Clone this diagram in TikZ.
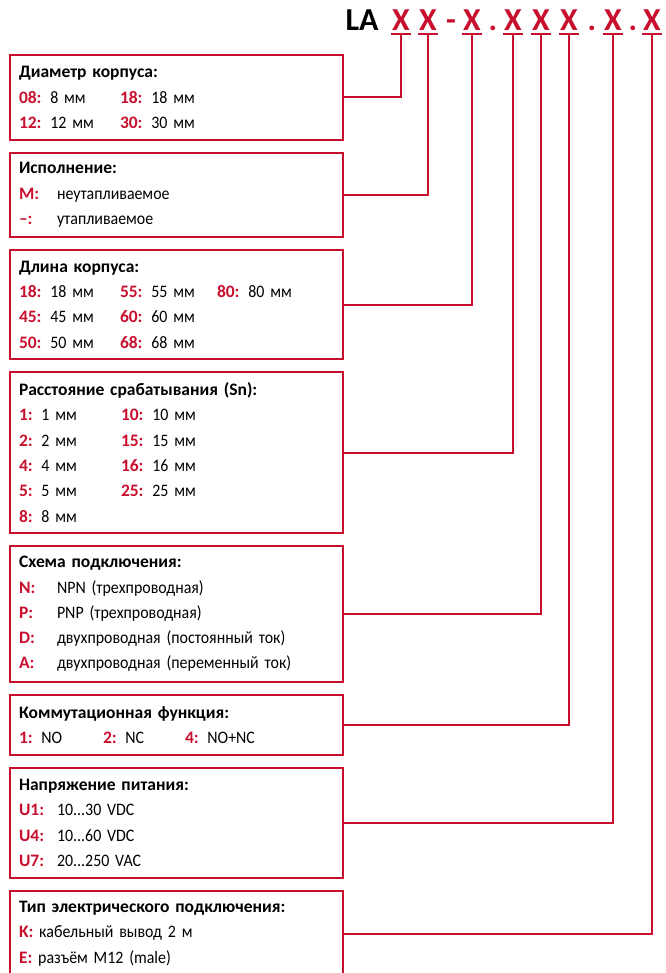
\documentclass[tikz,border=0pt]{standalone}
\usepackage{fontspec}
\setmainfont{Carlito}[WordSpace=0.75, UprightFeatures={FakeStretch=0.91}]
\usetikzlibrary{positioning}

\definecolor{lared}{RGB}{200,16,46}
\newcommand{\key}[1]{\textbf{\color{lared}#1}}
\newcommand{\cell}[2]{\makebox[#1][l]{#2}}

\begin{document}
\begin{tikzpicture}[x=1pt, y=-1pt, node distance=11pt,
    box/.style={draw=lared, line width=2pt, align=left, text width=315pt,
        inner xsep=9pt, inner ysep=0pt, font=\fontsize{17.5}{25.3}\selectfont},
    code/.style={anchor=base, inner sep=0pt, text=lared,
        font=\fontsize{32}{32}\selectfont\bfseries},
    link/.style={draw=lared, line width=2pt}]

    \useasboundingbox (0,0) rectangle (665,973);

    % code line
    \node[code, text=black] (la) at (362,31) {LA};
    \node[code] (x1) at (401,31) {X};
    \node[code] (x2) at (428,31) {X};
    \node[code] (d1) at (451,31) {-};
    \node[code] (x3) at (472,31) {X};
    \node[code] (p1) at (493,31) {.};
    \node[code] (x4) at (513,31) {X};
    \node[code] (x5) at (541,31) {X};
    \node[code] (x6) at (569,31) {X};
    \node[code] (p2) at (592,31) {.};
    \node[code] (x7) at (613,31) {X};
    \node[code] (p3) at (633,31) {.};
    \node[code] (x8) at (652,31) {X};

    % boxes
    \node[box, anchor=north west, minimum height=85pt] (diam) at (9,54) {%
        \textbf{Диаметр корпуса:}\\
        \cell{101pt}{\key{08:} 8 мм}\key{18:} 18 мм\\
        \cell{101pt}{\key{12:} 12 мм}\key{30:} 30 мм};
    \node[box, below=of diam, minimum height=84pt] (mount) {%
        \textbf{Исполнение:}\\
        \cell{38pt}{\key{M:}}неутапливаемое\\
        \cell{38pt}{\key{–:}}утапливаемое};
    \node[box, below=of mount, minimum height=109pt] (length) {%
        \textbf{Длина корпуса:}\\
        \cell{101pt}{\key{18:} 18 мм}\cell{97pt}{\key{55:} 55 мм}\key{80:} 80 мм\\
        \cell{101pt}{\key{45:} 45 мм}\key{60:} 60 мм\\
        \cell{101pt}{\key{50:} 50 мм}\key{68:} 68 мм};
    \node[box, below=of length, minimum height=161pt] (range) {%
        \textbf{Расстояние срабатывания (Sn):}\\
        \cell{102pt}{\key{1:} 1 мм}\key{10:} 10 мм\\
        \cell{102pt}{\key{2:} 2 мм}\key{15:} 15 мм\\
        \cell{102pt}{\key{4:} 4 мм}\key{16:} 16 мм\\
        \cell{102pt}{\key{5:} 5 мм}\key{25:} 25 мм\\
        \key{8:} 8 мм};
    \node[box, below=of range, minimum height=136pt] (wiring) {%
        \textbf{Схема подключения:}\\
        \cell{38pt}{\key{N:}}NPN (трехпроводная)\\
        \cell{38pt}{\key{P:}}PNP (трехпроводная)\\
        \cell{38pt}{\key{D:}}двухпроводная (постоянный ток)\\
        \cell{38pt}{\key{A:}}двухпроводная (переменный ток)};
    \node[box, below=of wiring, minimum height=60pt] (output) {%
        \textbf{Коммутационная функция:}\\
        \cell{84pt}{\key{1:} NO}\cell{82pt}{\key{2:} NC}\key{4:} NO+NC};
    \node[box, below=of output, minimum height=110pt] (supply) {%
        \textbf{Напряжение питания:}\\
        \cell{38pt}{\key{U1:}}10...30 VDC\\
        \cell{38pt}{\key{U4:}}10...60 VDC\\
        \cell{38pt}{\key{U7:}}20...250 VAC};
    \node[box, below=of supply, minimum height=85pt] (conn) {%
        \textbf{Тип электрического подключения:}\\
        \key{K:} кабельный вывод 2 м\\
        \key{E:} разъём M12 (male)};

    % underlines and leaders
    \draw[link] ([xshift=-10pt, yshift=-3pt]x1.south) -- ([xshift=10pt, yshift=-3pt]x1.south);
    \draw[link] ([xshift=-10pt, yshift=-3pt]x2.south) -- ([xshift=10pt, yshift=-3pt]x2.south);
    \draw[link] ([xshift=-10pt, yshift=-3pt]x3.south) -- ([xshift=10pt, yshift=-3pt]x3.south);
    \draw[link] ([xshift=-10pt, yshift=-3pt]x4.south) -- ([xshift=10pt, yshift=-3pt]x4.south);
    \draw[link] ([xshift=-10pt, yshift=-3pt]x5.south) -- ([xshift=10pt, yshift=-3pt]x5.south);
    \draw[link] ([xshift=-10pt, yshift=-3pt]x6.south) -- ([xshift=10pt, yshift=-3pt]x6.south);
    \draw[link] ([xshift=-10pt, yshift=-3pt]x7.south) -- ([xshift=10pt, yshift=-3pt]x7.south);
    \draw[link] ([xshift=-10pt, yshift=-3pt]x8.south) -- ([xshift=10pt, yshift=-3pt]x8.south);

    \draw[link] ([yshift=-3pt]x1.south) |- (diam.east);
    \draw[link] ([yshift=-3pt]x2.south) |- (mount.east);
    \draw[link] ([yshift=-3pt]x3.south) |- (length.east);
    \draw[link] ([yshift=-3pt]x4.south) |- (range.east);
    \draw[link] ([yshift=-3pt]x5.south) |- (wiring.east);
    \draw[link] ([yshift=-3pt]x6.south) |- (output.east);
    \draw[link] ([yshift=-3pt]x7.south) |- (supply.east);
    \draw[link] ([yshift=-3pt]x8.south) |- (conn.east);

\end{tikzpicture}
\end{document}
